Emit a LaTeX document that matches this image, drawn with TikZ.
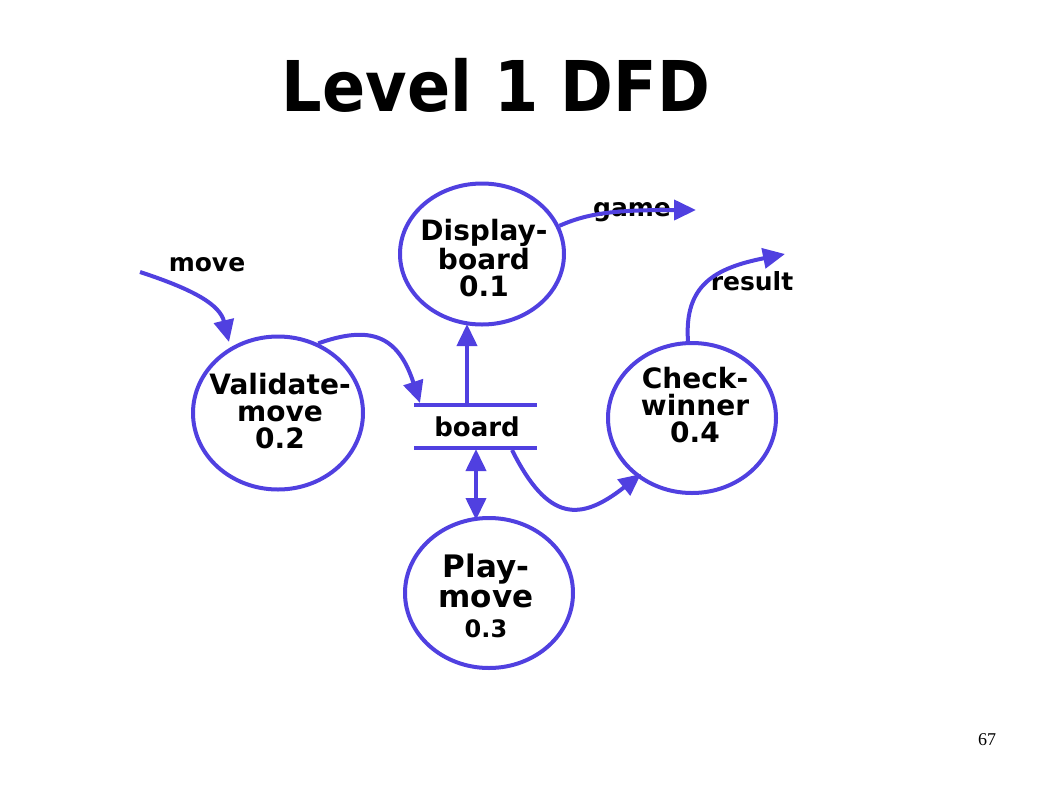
\documentclass[tikz,border=0pt]{standalone}
\usepackage{fontspec}
\usepackage{graphicx}
\setmainfont{DejaVu Sans}
\newfontfamily\numfont{Liberation Serif}
\usetikzlibrary{shapes.geometric,arrows.meta}
\definecolor{dfdblue}{RGB}{80,64,224}
\newcommand{\bigt}{\fontsize{28}{27}\selectfont}
\newcommand{\hugt}{\fontsize{31}{30}\selectfont}
\newcommand{\smat}{\fontsize{24}{27}\selectfont}
\begin{document}
\begin{tikzpicture}[x=1pt,y=-1pt,
  proc/.style={draw=dfdblue,line width=4pt,ellipse,inner sep=0pt},
  flow/.style={draw=dfdblue,line width=4pt,-{Triangle[length=22pt,width=20pt]}},
  biflow/.style={draw=dfdblue,line width=4pt,{Triangle[length=22pt,width=20pt]}-{Triangle[length=22pt,width=20pt]}},
  storeline/.style={draw=dfdblue,line width=4pt},
  txt/.style={font=\bigt\bfseries,align=center,inner sep=0pt},
  lbl/.style={font=\fontsize{25}{25}\selectfont\bfseries,inner sep=0pt}]
\useasboundingbox (0,0) rectangle (1058,793);
\node[font=\fontsize{70}{70}\selectfont\bfseries] (title) at (496,85) {\scalebox{0.91}[1]{Level 1 DFD}};
% processes
\node[proc,minimum width=164pt,minimum height=141pt] (p1) at (482,254) {};
\node[proc,minimum width=170pt,minimum height=153pt] (p2) at (278,413) {};
\node[proc,minimum width=168pt,minimum height=150pt] (p3) at (489,593) {};
\node[proc,minimum width=168pt,minimum height=150pt] (p4) at (692,418) {};
\node[txt] (t1) at (484,258) {Display-\\board\\0.1};
\node[txt] (t2) at (280,411) {Validate-\\move\\0.2};
\node[txt] (t4) at (695,405) {Check-\\winner\\0.4};
\node[txt,font=\hugt\bfseries] (t3) at (486,596) {Play-\\move\\\smat 0.3};
% store
\coordinate (s1) at (414,405); \coordinate (s2) at (537,405);
\coordinate (s3) at (414,448); \coordinate (s4) at (537,448);
\draw[storeline] (s1) -- (s2);
\draw[storeline] (s3) -- (s4);
\node[lbl,font=\fontsize{26}{26}\selectfont\bfseries] (store) at (477,427) {board};
% labels
\node[lbl] (lmove) at (207,265) {move};
\node[lbl] (lgame) at (632,212) {game};
\node[lbl] (lres) at (752,281) {result};
% connectors
\coordinate (mstart) at (140,272);
\coordinate (mend) at (229,342);
\draw[flow] (mstart) .. controls (195,290) and (220,305) .. (mend);
\coordinate (vin) at (420,403);
\draw[flow] (p2.60) .. controls (370,325) and (398,335) .. (vin);
\coordinate (upa) at (467,405); \coordinate (upb) at (467,324);
\draw[flow] (upa) -- (upb);
\coordinate (dna) at (476,449); \coordinate (dnb) at (476,520);
\draw[biflow] (dna) -- (dnb);
\coordinate (cwa) at (512,450); \coordinate (cwb) at (641,474);
\draw[flow] (cwa) .. controls (548,522) and (580,522) .. (cwb);
\coordinate (gend) at (696,210);
\draw[flow] (p1.20) .. controls (590,212) and (620,210) .. (gend);
\coordinate (rend) at (785,254);
\draw[flow] (p4.north) ++(-4,0) .. controls (684,285) and (715,268) .. (rend);
\node[font=\numfont\fontsize{18}{18}\selectfont] (pg) at (987,740) {67};
\end{tikzpicture}
\end{document}
